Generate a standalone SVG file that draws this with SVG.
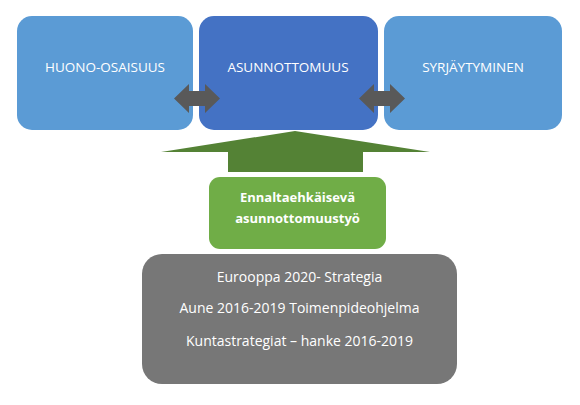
<svg xmlns="http://www.w3.org/2000/svg" width="580" height="405" viewBox="0 0 580 405">
<style>
.t{font-family:"Open Sans","Liberation Sans",sans-serif;fill:#fff;text-anchor:middle}
.top{font-size:13.5px}
.g{font-size:13px;font-weight:bold}
.b{font-size:14px}
</style>
<rect width="580" height="405" fill="#fff"/>
<g id="huono">
<rect x="17" y="16" width="176" height="114" rx="15" fill="#5B9BD5"/>
<text class="t top" x="105" y="72">HUONO-OSAISUUS</text>
</g>
<g id="asunnottomuus">
<rect x="199" y="16" width="179" height="114" rx="15" fill="#4472C4"/>
<text class="t top" x="288" y="72">ASUNNOTTOMUUS</text>
</g>
<g id="syrjaytyminen">
<rect x="384" y="16" width="178" height="114" rx="15" fill="#5B9BD5"/>
<text class="t top" x="473" y="72">SYRJÄYTYMINEN</text>
</g>
<g id="connectors">
<polygon points="174,98.5 189,84 189,91 205,91 205,84 220,98.5 205,113 205,106 189,106 189,113" fill="#595959"/>
<polygon points="359,98.5 374,84 374,91 390,91 390,84 405,98.5 390,113 390,106 374,106 374,113" fill="#595959"/>
<polygon points="295,131 430,152 363,152 363,172 228,172 228,152 161,152" fill="#548235"/>
</g>
<g id="ennalta">
<rect x="209" y="177" width="177" height="72" rx="11" fill="#70AD47"/>
<text class="t g" x="297.5" y="202">Ennaltaehkäisevä</text>
<text class="t g" x="297.5" y="223">asunnottomuustyö</text>
</g>
<g id="strategiat">
<rect x="142" y="254" width="315" height="130" rx="20" fill="#777777"/>
<text class="t b" x="299.5" y="282">Eurooppa 2020- Strategia</text>
<text class="t b" x="299.5" y="313">Aune 2016-2019 Toimenpideohjelma</text>
<text class="t b" x="299.5" y="346">Kuntastrategiat – hanke 2016-2019</text>
</g>
</svg>
